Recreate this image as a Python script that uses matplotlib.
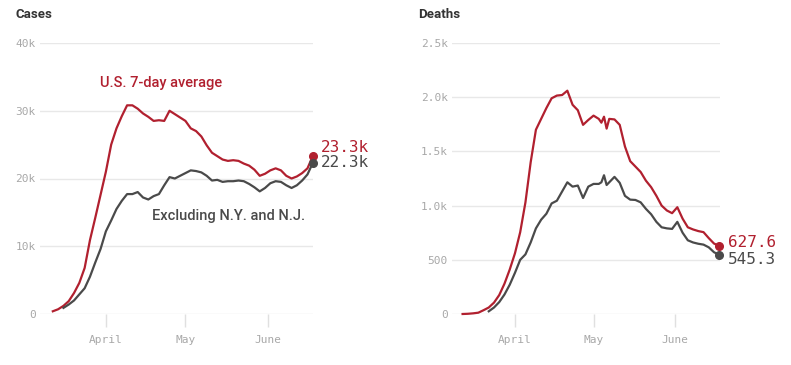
import numpy as np
import matplotlib.pyplot as plt

# days after 2020-03-12
start = np.datetime64('2020-03-12')
days = list(range(0, 99, 2))

# cases, thousands (7-day average)
cases_us = [0.4, 0.7, 1.2, 1.9, 3.1, 4.6, 6.8, 10.9, 14.2, 17.6, 21.0, 25.0, 27.4, 29.2, 30.8, 30.8,
            30.3, 29.6, 29.1, 28.5, 28.6, 28.5, 30.0, 29.5, 29.0, 28.5, 27.4, 27.0, 26.2, 24.9, 23.8,
            23.3, 22.8, 22.6, 22.7, 22.6, 22.2, 21.9, 21.3, 20.4, 20.7, 21.2, 21.5, 21.2, 20.4, 20.0,
            20.3, 20.8, 21.5, 23.3]
cases_ex = [np.nan, np.nan, 0.9, 1.4, 2.0, 2.9, 3.8, 5.5, 7.6, 9.6, 12.2, 13.8, 15.5, 16.7, 17.7, 17.7,
            18.0, 17.2, 16.9, 17.4, 17.7, 19.0, 20.2, 20.0, 20.4, 20.8, 21.2, 21.1, 20.9, 20.4, 19.7,
            19.8, 19.5, 19.6, 19.6, 19.7, 19.6, 19.2, 18.7, 18.1, 18.6, 19.3, 19.6, 19.5, 19.0, 18.6,
            19.0, 19.7, 20.6, 22.3]

death_days = list(range(0, 53, 2)) + [53, 54, 55, 56] + list(range(58, 99, 2))
deaths_us = [0, 2, 6, 12, 35, 60, 105, 175, 280, 410, 560, 755, 1030, 1400, 1700, 1800, 1900, 1990,
             2015, 2020, 2060, 1930, 1880, 1745, 1790, 1830, 1800, 1765, 1820, 1710, 1800, 1795, 1745,
             1545, 1410, 1360, 1310, 1230, 1170, 1090, 1000, 955, 930, 985, 880, 800, 780, 765, 755,
             700, 650, 627.6]
deaths_ex = [np.nan] * 5 + [25, 60, 110, 180, 270, 380, 500, 550, 660, 790, 870, 925, 1020, 1045, 1130,
             1215, 1175, 1185, 1070, 1175, 1200, 1200, 1215, 1280, 1190, 1215, 1265, 1210, 1090, 1055,
             1052, 1030, 970, 920, 850, 800, 790, 785, 850, 750, 680, 660, 648, 640, 615, 570, 545.3]

cases_ticks = [0, 10, 20, 30, 40]
cases_ticklabels = ['0', '10k', '20k', '30k', '40k']
deaths_ticks = [0, 500, 1000, 1500, 2000, 2500]
deaths_ticklabels = ['0', '500', '1.0k', '1.5k', '2.0k', '2.5k']
month_ticks = ['2020-04-01', '2020-05-01', '2020-06-01']
month_labels = ['April', 'May', 'June']

RED = '#b1202f'
DARK = '#4a4a4a'
MONO = 'DejaVu Sans Mono'
SANS = ['Roboto', 'DejaVu Sans']

fig = plt.figure(figsize=(7.91, 3.65), dpi=100)
W, H = 791, 365


def setup(ax, ticks, ticklabels, ymax, left_day, right_day):
    ax.set_ylim(0, ymax)
    ax.set_xlim(start + np.timedelta64(int(left_day * 24), 'h'),
                start + np.timedelta64(int(right_day * 24), 'h'))
    for s in ax.spines.values():
        s.set_visible(False)
    ax.set_yticks(ticks)
    ax.set_yticklabels(ticklabels, family=MONO, fontsize=8, color='#a8a8a8')
    ax.tick_params(axis='y', length=0, pad=3)
    ax.set_xticks([np.datetime64(m) for m in month_ticks])
    ax.set_xticklabels(month_labels, family=MONO, fontsize=8, color='#a8a8a8')
    ax.tick_params(axis='x', length=9, width=1, color='#e0e0e0', pad=6)
    ax.grid(axis='y', color='#e8e8e8', lw=1)
    ax.set_axisbelow(True)


def end_labels(ax, x, y_us, y_ex, txt_us, txt_ex, off_us, off_ex):
    ax.plot([x], [y_us], 'o', color=RED, ms=5.5, clip_on=False, zorder=5)
    ax.plot([x], [y_ex], 'o', color=DARK, ms=5.5, clip_on=False, zorder=5)
    ax.annotate(txt_us, (x, y_us), xytext=(6, off_us), textcoords='offset points',
                va='center', ha='left', family=MONO, fontsize=11.5, color=RED)
    ax.annotate(txt_ex, (x, y_ex), xytext=(6, off_ex), textcoords='offset points',
                va='center', ha='left', family=MONO, fontsize=11.5, color=DARK)


# cases
ax1 = fig.add_axes([40 / W, 51 / H, 273 / W, 271 / H])
setup(ax1, cases_ticks, cases_ticklabels, 40, -4.84, 98.1)
d1 = start + np.array(days, dtype='timedelta64[D]')
ax1.plot(d1, cases_us, color=RED, lw=1.6, clip_on=False)
ax1.plot(d1, cases_ex, color=DARK, lw=1.6, clip_on=False)
end_labels(ax1, d1[-1], cases_us[-1], cases_ex[-1], '23.3k', '22.3k', 6.5, 0)
ax1.text(start + np.timedelta64(17, 'D') + np.timedelta64(17, 'h'), 34.1, 'U.S. 7-day average',
         color=RED, family=SANS, fontsize=10.5, fontweight='medium', va='center', ha='left')
ax1.text(start + np.timedelta64(37, 'D') + np.timedelta64(7, 'h'), 14.5, 'Excluding N.Y. and N.J.',
         color=DARK, family=SANS, fontsize=10.5, fontweight='medium', va='center', ha='left')

# deaths
ax2 = fig.add_axes([452 / W, 51 / H, 268 / W, 271 / H])
setup(ax2, deaths_ticks, deaths_ticklabels, 2500, -4.07, 98.3)
d2 = start + np.array(death_days, dtype='timedelta64[D]')
ax2.plot(d2, deaths_us, color=RED, lw=1.6, clip_on=False)
ax2.plot(d2, deaths_ex, color=DARK, lw=1.6, clip_on=False)
end_labels(ax2, d2[-1], deaths_us[-1], deaths_ex[-1], '627.6', '545.3', 2.5, -3)

fig.text(16 / W, 1 - 15 / H, 'Cases', family=SANS, fontsize=9.5, fontweight='bold', color='#333333', va='center')
fig.text(418 / W, 1 - 15 / H, 'Deaths', family=SANS, fontsize=9.5, fontweight='bold', color='#333333', va='center')

fig.savefig('out.png', dpi=100, facecolor='white')
